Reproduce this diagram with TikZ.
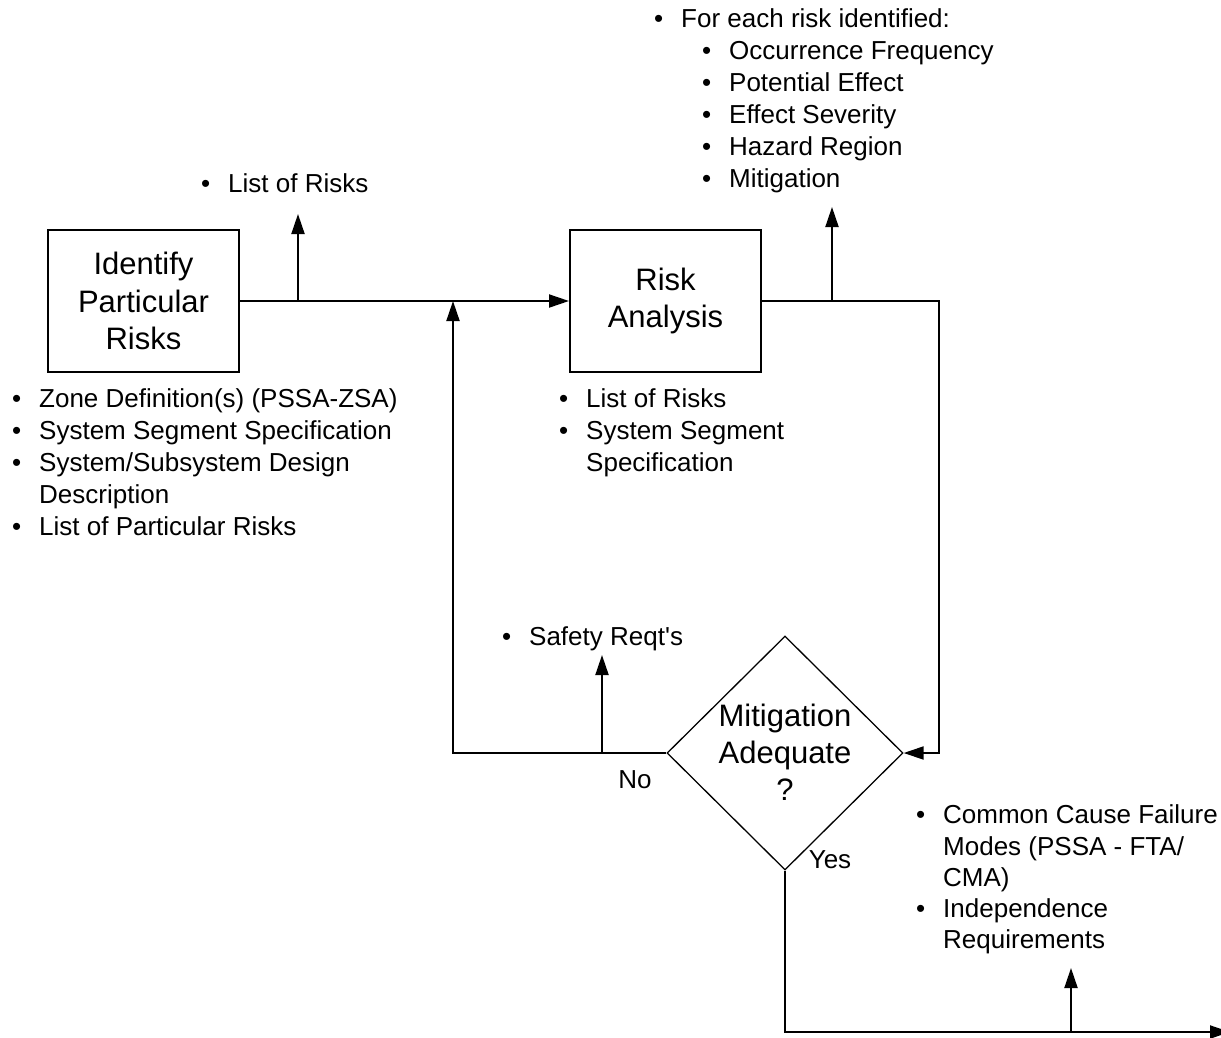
\documentclass[tikz,border=0pt]{standalone}
\usepackage{fontspec}
\setmainfont{Liberation Sans}
\usetikzlibrary{arrows.meta,shapes.geometric}
% bullet with hanging indent for the note lists
\newcommand\bul{\makebox[27pt][l]{\textbullet}}
\newcommand\ind{\hspace*{27pt}}

\begin{document}
\begin{tikzpicture}[x=1pt,y=-1pt,
  wire/.style={line width=2pt},
  flow/.style={wire,-{Triangle[length=20pt,width=13pt]}},
  procbox/.style={draw,line width=2pt,minimum width=191pt,minimum height=142pt,
    inner sep=0pt,align=center,font=\fontsize{31}{37.5}\selectfont},
  decision/.style={draw,diamond,line width=1.3pt,minimum width=236pt,
    minimum height=234pt,inner sep=0pt},
  dectxt/.style={inner sep=0pt,align=center,font=\fontsize{31}{37}\selectfont},
  notes/.style={anchor=north west,inner sep=0pt,align=left,
    font=\fontsize{26}{32}\selectfont},
  tag/.style={inner sep=0pt,font=\fontsize{26}{32}\selectfont}]
\useasboundingbox (0,0) rectangle (1221,1037);

% process boxes and decision
\node[procbox] (ident) at (143.5,301) {Identify\\Particular\\Risks};
\node[procbox] (risk) at (665.5,301) {Risk\\Analysis};
\node[decision] (dec) at (785,753) {};
\node[dectxt] (dectext) at (785,752) {Mitigation\\Adequate\\?};

% junction and corner points
\coordinate (outA) at (298,301);
\coordinate (outAend) at (298,214);
\coordinate (merge) at (453,301);
\coordinate (nocorner) at (453,753);
\coordinate (outS) at (602,753);
\coordinate (outSend) at (602,655);
\coordinate (outB) at (832,301);
\coordinate (outBend) at (832,207);
\coordinate (rc1) at (939,301);
\coordinate (rc2) at (939,753);
\coordinate (yc) at (785,1032);
\coordinate (exit) at (1230,1032);
\coordinate (outC) at (1071,1032);
\coordinate (outCend) at (1071,968);

% connectors
\draw[flow] (ident.east) -- (risk.west);
\draw[flow] (outA) -- (outAend);
\draw[flow] (dec.west) -- (nocorner) -- (merge);
\draw[flow] (outS) -- (outSend);
\draw[flow] (risk.east) -- (rc1) -- (rc2) -- (dec.east);
\draw[flow] (outB) -- (outBend);
\draw[flow] (dec.south) -- (yc) -- (exit);
\draw[flow] (outC) -- (outCend);

% branch labels
\node[tag] (no) at (635,780) {No};
\node[tag] (yes) at (830,860) {Yes};

% notes
\node[notes] (risklist) at (201,169.6) {\strut\bul List of Risks};
\node[notes] (inputs) at (12,384.6) {\strut\bul Zone Definition(s) (PSSA-ZSA)\\
  \bul System Segment Specification\\
  \bul System/Subsystem Design\\
  \ind Description\\
  \bul List of Particular Risks};
\node[notes] (rainputs) at (559,384.6) {\strut\bul List of Risks\\
  \bul System Segment\\
  \ind Specification};
\node[notes] (raoutputs) at (654,4.6) {\strut\bul For each risk identified:\\
  \hspace*{48pt}\bul Occurrence Frequency\\
  \hspace*{48pt}\bul Potential Effect\\
  \hspace*{48pt}\bul Effect Severity\\
  \hspace*{48pt}\bul Hazard Region\\
  \hspace*{48pt}\bul Mitigation};
\node[notes] (safety) at (502,622.6) {\strut\bul Safety Reqt\textquotesingle s};
\node[notes,font=\fontsize{26}{31.3}\selectfont] (ccf) at (916,801.6) {\strut\bul Common Cause Failure\\
  \ind Modes (PSSA - FTA/\\
  \ind CMA)\\
  \bul Independence\\
  \ind Requirements};
\end{tikzpicture}
\end{document}
